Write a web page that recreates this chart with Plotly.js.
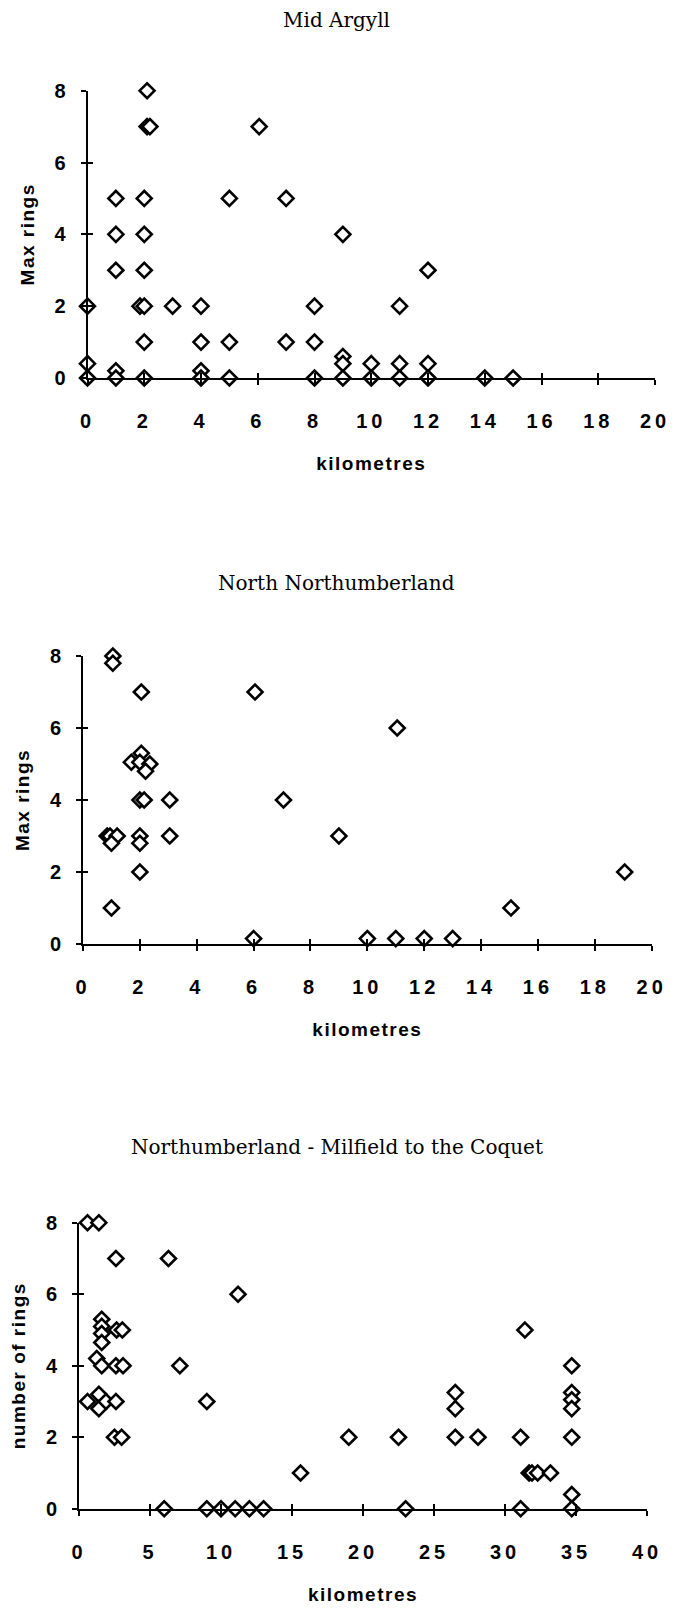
<!DOCTYPE html>
<html>
<head>
<meta charset="utf-8">
<script src="https://cdn.plot.ly/plotly-3.0.1.min.js"></script>
<style>
html, body { margin: 0; padding: 0; background: #fff; }
#chart { width: 673px; height: 1609px; }
.xtick text, .x2tick text, .x3tick text { letter-spacing: 4px; }
.g-xtitle text, .g-x2title text, .g-x3title text,
.g-ytitle text, .g-y2title text, .g-y3title text { letter-spacing: 1.5px; }
</style>
</head>
<body>
<div id="chart"></div>
<script>
// ---------------- data ----------------
const chartTitles = ['Mid Argyll', 'North Northumberland', 'Northumberland - Milfield to the Coquet'];
const yTitles = ['Max rings', 'Max rings', 'number of rings'];
const xTitle = 'kilometres';

const kmTicks20 = [0, 2, 4, 6, 8, 10, 12, 14, 16, 18, 20];
const kmTicks40 = [0, 5, 10, 15, 20, 25, 30, 35, 40];
const ringTicks = [0, 2, 4, 6, 8];

const argyllKm = [2.1, 2.1, 2.2, 6.05, 1, 2, 5, 7, 1, 2, 9, 1, 2, 12, 0, 1.85, 2, 3, 4, 8, 11, 2, 4, 5, 7, 8, 0, 1, 4, 9, 9, 10, 11, 12, 0, 1, 2, 4, 5, 8, 9, 10, 11, 12, 14, 15];
const argyllRings = [8, 7, 7, 7, 5, 5, 5, 5, 4, 4, 4, 3, 3, 3, 2, 2, 2, 2, 2, 2, 2, 1, 1, 1, 1, 1, 0.4, 0.2, 0.2, 0.6, 0.4, 0.4, 0.4, 0.4, 0, 0, 0, 0, 0, 0, 0, 0, 0, 0, 0, 0];

const northKm = [1.05, 1.05, 2.05, 6.05, 11.05, 1.7, 2.05, 2.0, 2.35, 2.2, 2.0, 2.15, 3.05, 7.05, 0.85, 0.95, 1.2, 1.0, 2.0, 2.0, 3.05, 9.0, 2.0, 1.0, 15.05, 19.05, 6.0, 10, 11, 12, 13];
const northRings = [8, 7.8, 7, 7, 6, 5.05, 5.3, 5.05, 5.0, 4.8, 4, 4, 4, 4, 3, 3, 3, 2.8, 3, 2.8, 3, 3, 2, 1, 1, 2, 0.15, 0.15, 0.15, 0.15, 0.15];

const milfieldKm = [0.6, 1.4, 2.6, 6.3, 11.2, 1.6, 1.6, 1.6, 1.6, 2.65, 3.05, 1.25, 1.6, 2.6, 3.1, 7.1, 0.6, 1.4, 1.4, 1.9, 2.6, 9, 2.5, 3.0, 15.6, 19, 22.5, 26.5, 26.5, 26.5, 28.1, 31.1, 31.4, 31.7, 31.9, 32.3, 33.2, 34.7, 34.7, 34.7, 34.7, 34.7, 34.7, 6.0, 9, 10, 11, 12, 13, 23, 31.1, 34.7];
const milfieldRings = [8, 8, 7, 7, 6, 5.3, 5.1, 4.9, 4.65, 5, 5, 4.2, 4, 4, 4, 4, 3, 3.2, 2.8, 3, 3, 3, 2, 2, 1, 2, 2, 3.25, 2.8, 2, 2, 2, 5, 1, 1, 1, 1, 4, 3.25, 3.05, 2.8, 2, 0.4, 0, 0, 0, 0, 0, 0, 0, 0, 0];

// ---------------- layout geometry (pixels) ----------------
const W = 673, H = 1609;
const fx = px => px / W;
const fy = px => 1 - px / H;

const panels = [
  { km: argyllKm, rings: argyllRings, xticks: kmTicks20, xmax: 20, left: 87.5, right: 655, top: 90.7, bottom: 378, titleY: 20 },
  { km: northKm, rings: northRings, xticks: kmTicks20, xmax: 20, left: 83, right: 651.7, top: 656, bottom: 944, titleY: 583 },
  { km: milfieldKm, rings: milfieldRings, xticks: kmTicks40, xmax: 40, left: 79, right: 647, top: 1222.7, bottom: 1508.8, titleY: 1147 }
];

const sansFont = { family: 'Liberation Sans, Arial, sans-serif', size: 20, weight: 'bold', color: '#000' };
const titleFontAxis = { family: 'Liberation Sans, Arial, sans-serif', size: 19, weight: 'bold', color: '#000' };
const serifFont = { family: 'DejaVu Serif, serif', size: 20, color: '#000' };

const data = [];
const layout = {
  width: W, height: H,
  margin: { l: 0, r: 0, t: 0, b: 0, pad: 0 },
  paper_bgcolor: '#fff', plot_bgcolor: 'rgba(0,0,0,0)',
  showlegend: false,
  annotations: []
};

panels.forEach((p, i) => {
  const n = i + 1, o = i + 4;
  const xs = n === 1 ? '' : String(n);
  data.push({
    type: 'scatter', mode: 'markers',
    x: p.km, y: p.rings,
    xaxis: 'x' + xs, yaxis: 'y' + xs,
    cliponaxis: false,
    marker: { symbol: 'diamond', size: 11.5, color: '#fff', line: { color: '#000', width: 2.6 } },
    hoverinfo: 'x+y'
  });
  // empty trace on overlay axes that carry the inward half of the crossing ticks
  data.push({ type: 'scatter', mode: 'markers', x: [], y: [], xaxis: 'x' + o, yaxis: 'y' + o, hoverinfo: 'skip' });

  const xdom = [fx(p.left), fx(p.right)];
  const ydom = [fy(p.bottom), fy(p.top)];
  layout['xaxis' + xs] = {
    domain: xdom, anchor: 'y' + xs, range: [0, p.xmax], fixedrange: true,
    showline: true, linewidth: 2, linecolor: '#000',
    showgrid: false, zeroline: false,
    ticks: 'outside', ticklen: 5, tickwidth: 2, tickcolor: '#000',
    tickmode: 'array', tickvals: p.xticks, ticktext: p.xticks.map(String),
    tickfont: sansFont, ticklabelstandoff: 19,
    title: { text: xTitle, font: titleFontAxis, standoff: 26 },
    automargin: false
  };
  layout['yaxis' + xs] = {
    domain: ydom, anchor: 'x' + xs, range: [0, 8], fixedrange: true,
    showline: true, linewidth: 2, linecolor: '#000',
    showgrid: false, zeroline: false,
    ticks: 'outside', ticklen: 5, tickwidth: 2, tickcolor: '#000',
    tickmode: 'array', tickvals: ringTicks, ticktext: ringTicks.map(String),
    tickfont: sansFont, ticklabelstandoff: 11,
    title: { text: yTitles[i], font: titleFontAxis, standoff: 15 },
    automargin: false
  };
  layout['xaxis' + o] = {
    overlaying: 'x' + xs, anchor: 'y' + xs, range: [0, p.xmax], fixedrange: true,
    showline: false, showgrid: false, zeroline: false,
    ticks: 'inside', ticklen: 5, tickwidth: 2, tickcolor: '#000',
    tickmode: 'array', tickvals: p.xticks, showticklabels: false
  };
  layout['yaxis' + o] = {
    overlaying: 'y' + xs, anchor: 'x' + xs, range: [0, 8], fixedrange: true,
    showline: false, showgrid: false, zeroline: false,
    ticks: 'inside', ticklen: 5, tickwidth: 2, tickcolor: '#000',
    tickmode: 'array', tickvals: ringTicks, showticklabels: false
  };
  layout.annotations.push({
    xref: 'paper', yref: 'paper', x: 0.5, y: fy(p.titleY),
    xanchor: 'center', yanchor: 'middle', showarrow: false,
    text: chartTitles[i], font: serifFont
  });
});

Plotly.newPlot('chart', data, layout, { displayModeBar: false, staticPlot: false });
</script>
</body>
</html>
